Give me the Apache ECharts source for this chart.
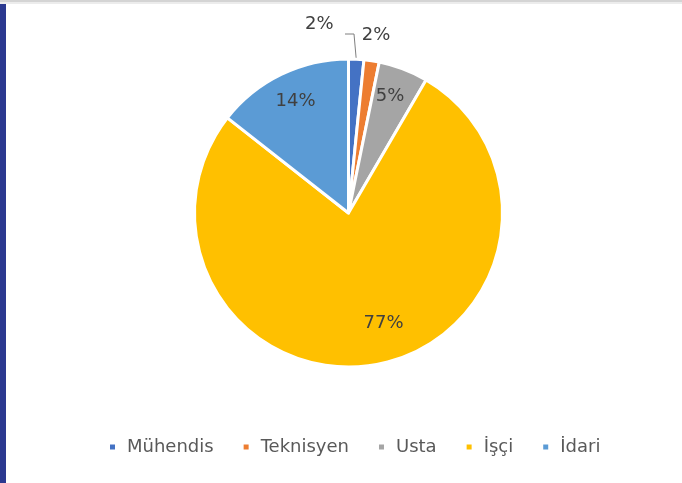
<!DOCTYPE html>
<html>
<head>
<meta charset="utf-8">
<script src="https://cdn.jsdelivr.net/npm/echarts@6/dist/echarts.min.js"></script>
<style>
html,body{margin:0;padding:0;background:#fff;}
#chart{width:682px;height:483px;}
</style>
</head>
<body>
<div id="chart"></div>
<script>
const categories = ['Mühendis', 'Teknisyen', 'Usta', 'İşçi', 'İdari'];
const values = [1.6, 1.6, 5.2, 77.2, 14.4];
const colors = ['#4472C4', '#ED7D31', '#A5A5A5', '#FFC000', '#5B9BD5'];

const chart = echarts.init(document.getElementById('chart'));
const FONT = 'DejaVu Sans';

// label placement tweaks (Excel best-fit style)
const labelShift = {
  0: {x: 345, y: 34, align: 'right'},
  1: {x: 376, y: 35, align: 'center'},
  2: {dx: 13, dy: -42},
  3: {dx: 20, dy: 32},
  4: {dx: -18, dy: -40}
};

chart.setOption({
  backgroundColor: '#ffffff',
  animation: false,
  color: colors,
  graphic: [
    {type: 'rect', left: 0, top: 0, shape: {width: 6, height: 483}, style: {fill: '#2B3990'}},
    {type: 'rect', left: 0, top: 0, shape: {width: 682, height: 2}, style: {fill: '#d4d4d4'}},
    {type: 'rect', left: 0, top: 2, shape: {width: 682, height: 2}, style: {fill: '#ececec'}}
  ],
  legend: {
    data: categories,
    left: 103,
    top: 433,
    icon: 'rect',
    itemWidth: 7,
    itemHeight: 7,
    itemGap: 28,
    textStyle: {fontFamily: FONT, fontSize: 18, color: '#595959', padding: [0, 0, 0, 6]}
  },
  series: [{
    type: 'pie',
    center: [348.5, 213],
    radius: [0, 154],
    startAngle: 90,
    clockwise: true,
    avoidLabelOverlap: false,
    itemStyle: {borderColor: '#ffffff', borderWidth: 3},
    label: {
      show: true,
      position: 'inside',
      fontFamily: FONT,
      fontSize: 18,
      lineHeight: 20,
      color: '#404040',
      formatter: p => p.dataIndex === 0
        ? Math.round(p.percent) + '%  \n '
        : Math.round(p.percent) + '%'
    },
    labelLine: {show: false},
    labelLayout: function (params) {
      const s = labelShift[params.dataIndex];
      if (s.x !== undefined) {
        return {x: s.x, y: s.y, align: s.align, verticalAlign: 'middle'};
      }
      return {dx: s.dx, dy: s.dy};
    },
    data: categories.map((c, i) => ({
      name: c,
      value: values[i],
      label: i < 2 ? {position: 'outside'} : undefined,
      labelLine: i === 0 ? {show: true, length: 8, length2: 9, lineStyle: {color: '#7f7f7f', width: 1}} : undefined
    }))
  }]
});
</script>
</body>
</html>
